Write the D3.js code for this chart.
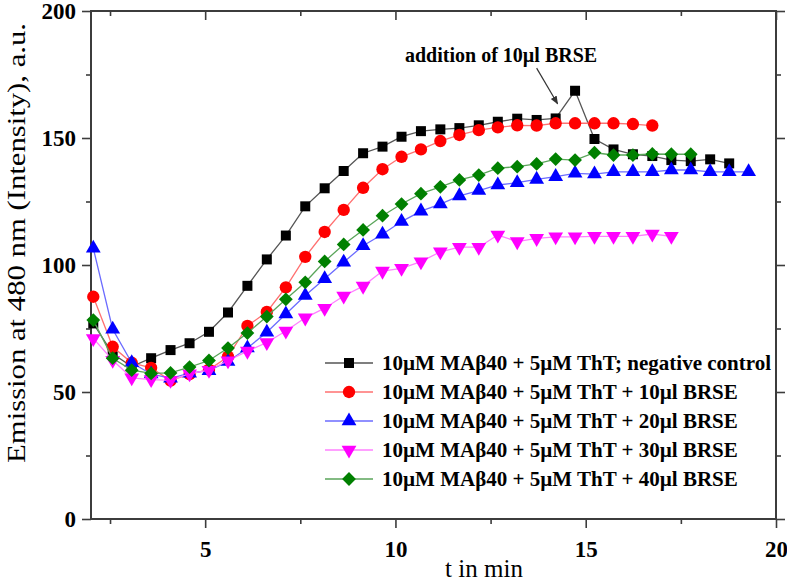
<!DOCTYPE html>
<html><head><meta charset="utf-8">
<script src="https://cdn.jsdelivr.net/npm/d3@7"></script>
<style>body{margin:0;background:#fff}svg{display:block}</style>
</head><body><svg id="c" width="787" height="584"></svg>
<script>
// ---- data ----
const times = [2.06, 2.57, 3.07, 3.58, 4.09, 4.59, 5.10, 5.60, 6.11, 6.62, 7.12, 7.63, 8.14, 8.64, 9.15, 9.66, 10.16, 10.67, 11.18, 11.68, 12.19, 12.69, 13.20, 13.71, 14.21, 14.72, 15.23, 15.73, 16.24, 16.75, 17.25, 17.76, 18.27, 18.77, 19.28];
const negativeControl = [77, 65, 60, 63.3, 66.5, 69.2, 73.7, 81.3, 91.8, 102.2, 111.6, 123.1, 130.2, 137.0, 144.0, 146.6, 150.5, 152.7, 153.4, 153.9, 155.0, 156.4, 157.6, 157.1, 157.7, 168.6, 149.6, 145.5, 143.6, 142.9, 141.3, 140.9, 141.6, 140.0];
const brse10 = [87.5, 67.8, 61.5, 59.5, 54.5, 57.0, 58.8, 63.9, 76.0, 81.5, 91.2, 103.2, 113.0, 121.7, 130.4, 137.7, 142.6, 145.5, 148.8, 151.2, 153.1, 154.2, 155.0, 154.9, 155.8, 155.8, 155.8, 155.8, 155.5, 154.9];
const brse20 = [106.6, 74.7, 61.5, 57.1, 55.4, 57.4, 58.4, 62.0, 67.3, 73.5, 80.7, 88.0, 94.6, 101.1, 107.6, 112.1, 117.1, 121.2, 124.0, 127.2, 129.3, 131.5, 132.4, 133.7, 134.8, 136.1, 135.8, 136.7, 136.7, 136.7, 137.4, 137.4, 136.7, 136.7, 136.7];
const brse30 = [71.1, 62.5, 55.6, 54.9, 54.6, 57.2, 58.6, 62.3, 66.1, 69.5, 74.0, 79.2, 83.0, 87.8, 91.7, 97.6, 98.7, 101.3, 105.2, 107.0, 107.0, 111.8, 109.2, 110.5, 111.1, 111.1, 111.3, 111.3, 111.3, 112.2, 111.3];
const brse40 = [78.3, 63.3, 58.6, 57.3, 57.5, 59.8, 62.4, 67.3, 73.2, 79.7, 86.5, 93.2, 101.4, 108.1, 113.8, 119.4, 124.0, 128.1, 130.8, 133.5, 135.4, 138.1, 138.7, 139.8, 141.7, 141.3, 144.2, 143.3, 143.3, 143.7, 143.6, 143.6];
const seriesLabels = [
  "10\u00b5M MA\u03b240 + 5\u00b5M ThT; negative control",
  "10\u00b5M MA\u03b240 + 5\u00b5M ThT + 10\u00b5l BRSE",
  "10\u00b5M MA\u03b240 + 5\u00b5M ThT + 20\u00b5l BRSE",
  "10\u00b5M MA\u03b240 + 5\u00b5M ThT + 30\u00b5l BRSE",
  "10\u00b5M MA\u03b240 + 5\u00b5M ThT + 40\u00b5l BRSE"
];
const xMajorTicks = [5, 10, 15, 20];
const xMinorTicks = [2.5, 7.5, 12.5, 17.5];
const yMajorTicks = [0, 50, 100, 150, 200];
const yMinorTicks = [25, 75, 125, 175];
const annotationText = "addition of 10\u00b5l BRSE";

// ---- styles ----
const colors = ["#000000", "#ff0000", "#0000ff", "#ff00ff", "#008000"];
const lineColors = ["#555555", "#ff7070", "#6b6bff", "#ff80ff", "#5aa55a"];
const valuesList = [negativeControl, brse10, brse20, brse30, brse40];

const svg = d3.select("#c");
const L = 91, R = 776, T = 11, B = 519;
const x = d3.scaleLinear().domain([2, 20]).range([L, R]);
const y = d3.scaleLinear().domain([0, 200]).range([B, T]);
const axisColor = "#3c3c3c";
const serif = "'Liberation Serif', 'Times New Roman', serif";

function styleAxis(g, fontSize) {
  g.select(".domain").remove();
  g.selectAll(".tick line").attr("stroke", axisColor).attr("stroke-width", 1.6);
  g.selectAll("text").attr("fill", "#000").style("font-family", serif)
    .style("font-size", fontSize + "px").style("font-weight", "bold");
}

// bottom
svg.append("g").attr("transform", `translate(0,${B})`)
  .call(d3.axisBottom(x).tickValues(xMajorTicks).tickSize(9).tickPadding(13).tickFormat(d3.format("d")))
  .call(g => styleAxis(g, 23));
svg.append("g").attr("transform", `translate(0,${B})`)
  .call(d3.axisBottom(x).tickValues(xMinorTicks).tickSize(5).tickFormat(""))
  .call(g => styleAxis(g, 23));
// top (ticks inward)
svg.append("g").attr("transform", `translate(0,${T})`)
  .call(d3.axisBottom(x).tickValues(xMajorTicks).tickSize(9).tickFormat(""))
  .call(g => styleAxis(g, 23));
svg.append("g").attr("transform", `translate(0,${T})`)
  .call(d3.axisBottom(x).tickValues(xMinorTicks).tickSize(5).tickFormat(""))
  .call(g => styleAxis(g, 23));
// left
svg.append("g").attr("transform", `translate(${L},0)`)
  .call(d3.axisLeft(y).tickValues(yMajorTicks).tickSize(9).tickPadding(6).tickFormat(d3.format("d")))
  .call(g => styleAxis(g, 23));
svg.append("g").attr("transform", `translate(${L},0)`)
  .call(d3.axisLeft(y).tickValues(yMinorTicks).tickSize(5).tickFormat(""))
  .call(g => styleAxis(g, 23));
// right (outward)
svg.append("g").attr("transform", `translate(${R},0)`)
  .call(d3.axisRight(y).tickValues(yMajorTicks).tickSize(9).tickFormat(""))
  .call(g => styleAxis(g, 23));
svg.append("g").attr("transform", `translate(${R},0)`)
  .call(d3.axisRight(y).tickValues(yMinorTicks).tickSize(5).tickFormat(""))
  .call(g => styleAxis(g, 23));

// frame
svg.append("rect").attr("x", L).attr("y", T).attr("width", R - L).attr("height", B - T)
  .attr("fill", "none").attr("stroke", axisColor).attr("stroke-width", 2);

// axis titles
svg.append("text").attr("x", 484).attr("y", 577).attr("text-anchor", "middle")
  .style("font-family", serif).style("font-size", "25px").text("t in min");
svg.append("text").attr("transform", `translate(25,243) rotate(-90)`).attr("text-anchor", "middle")
  .style("font-family", serif).style("font-size", "26px")
  .attr("textLength", 440).attr("lengthAdjust", "spacingAndGlyphs")
  .text("Emission at 480 nm (Intensity), a.u.");

// symbols
const symGen = [
  {type: d3.symbolSquare, size: 100, rot: 0},
  {type: d3.symbolCircle, size: 120, rot: 0},
  {type: d3.symbolTriangle, size: 95, rot: 0},
  {type: d3.symbolTriangle, size: 95, rot: 180},
  {type: d3.symbolSquare, size: 95, rot: 45}
];

const line = d3.line().x(d => x(d[0])).y(d => y(d[1]));
valuesList.forEach((vals, i) => {
  const pts = vals.map((v, j) => [times[j], v]);
  const g = svg.append("g");
  g.append("path").datum(pts).attr("d", line).attr("fill", "none")
    .attr("stroke", lineColors[i]).attr("stroke-width", 1.3);
  g.selectAll("path.m").data(pts).enter().append("path").attr("class", "m")
    .attr("d", d3.symbol().type(symGen[i].type).size(symGen[i].size))
    .attr("transform", d => `translate(${x(d[0])},${y(d[1])}) rotate(${symGen[i].rot})`)
    .attr("fill", colors[i]);
});

// legend
const lg = svg.append("g").attr("transform", "translate(325,363)");
seriesLabels.forEach((lab, i) => {
  const row = lg.append("g").attr("transform", `translate(0,${i * 29})`);
  row.append("line").attr("x1", 0).attr("x2", 48).attr("y1", 0).attr("y2", 0)
    .attr("stroke", lineColors[i]).attr("stroke-width", 1.3);
  row.append("path").attr("d", d3.symbol().type(symGen[i].type).size(symGen[i].size))
    .attr("transform", `translate(24,0) rotate(${symGen[i].rot})`).attr("fill", colors[i]);
  row.append("text").attr("x", 57).attr("y", 0).attr("dy", "0.35em")
    .style("font-family", serif).style("font-size", "21px").style("font-weight", "bold")
    .text(lab);
});

// annotation
const defs = svg.append("defs");
defs.append("marker").attr("id", "arr").attr("viewBox", "0 0 10 10").attr("refX", 9).attr("refY", 5)
  .attr("markerWidth", 7).attr("markerHeight", 7).attr("orient", "auto")
  .append("path").attr("d", "M0,1 L10,5 L0,9 z").attr("fill", "#333");
svg.append("text").attr("x", 405).attr("y", 62)
  .style("font-family", serif).style("font-size", "20px").style("font-weight", "bold")
  .text(annotationText);
svg.append("line").attr("x1", x(13.71)).attr("y1", y(177.5)).attr("x2", x(14.26)).attr("y2", y(163.5))
  .attr("stroke", "#333").attr("stroke-width", 1.2).attr("marker-end", "url(#arr)");
</script></body></html>
